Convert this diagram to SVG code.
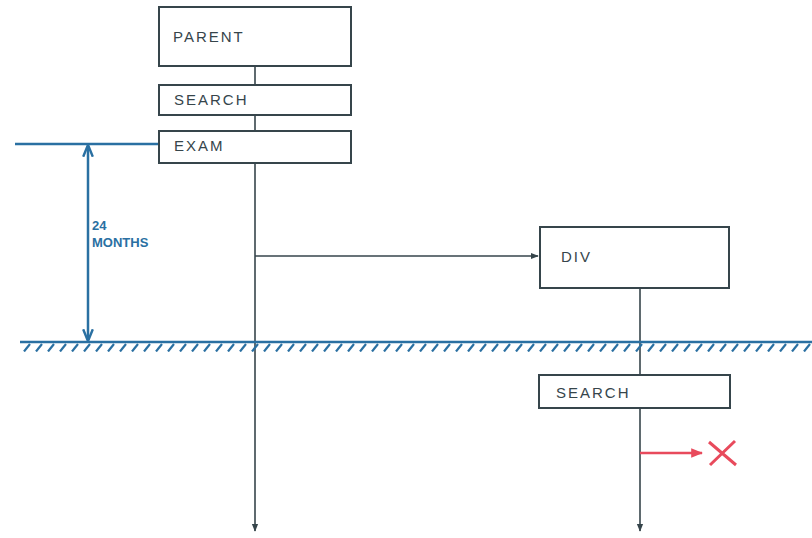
<svg xmlns="http://www.w3.org/2000/svg" width="812" height="538" viewBox="0 0 812 538">
<style>
.box{fill:#fff;stroke:#36454b;stroke-width:2}
.lbl{font-family:"Liberation Sans",Arial,sans-serif;font-size:15px;fill:#36454b;letter-spacing:2px}
.ln{stroke:#36454b;stroke-width:1.6;fill:none}
.blue{stroke:#2a70a2;stroke-width:2.5;fill:none}
.btxt{font-family:"Liberation Sans",Arial,sans-serif;font-size:13px;font-weight:bold;fill:#2a70a2}
</style>
<defs>
<marker id="ah" viewBox="0 0 10 10" refX="9" refY="5" markerWidth="8" markerHeight="8" orient="auto-start-reverse" markerUnits="userSpaceOnUse">
<path d="M0,1 L10,5 L0,9 Z" fill="#36454b"/>
</marker>
<marker id="ahb" viewBox="0 0 10 10" refX="9" refY="5" markerWidth="12" markerHeight="12" orient="auto-start-reverse" markerUnits="userSpaceOnUse">
<path d="M0,1 L10,5 L0,9" fill="none" stroke="#2a70a2" stroke-width="2"/>
</marker>
<marker id="ahr" viewBox="0 0 10 10" refX="9" refY="5" markerWidth="12" markerHeight="12" orient="auto" markerUnits="userSpaceOnUse">
<path d="M0,1 L10,5 L0,9 Z" fill="#e84a5c"/>
</marker>
<pattern id="hatch" x="22" y="343" width="12" height="9" patternUnits="userSpaceOnUse">
<line x1="2" y1="8.5" x2="8" y2="1" stroke="#2a70a2" stroke-width="2.2"/>
</pattern>
</defs>
<g id="connectors">
<line class="ln" x1="255" y1="66" x2="255" y2="531" marker-end="url(#ah)"/>
<line class="ln" x1="255" y1="256" x2="538" y2="256" marker-end="url(#ah)"/>
<line class="ln" x1="640" y1="288" x2="640" y2="531" marker-end="url(#ah)"/>
<line x1="640" y1="453" x2="702" y2="453" stroke="#e84a5c" stroke-width="2.5" marker-end="url(#ahr)"/>
<path d="M709,442 L736,465 M735,441 L710,465" stroke="#e84a5c" stroke-width="3" fill="none"/>
</g>
<g id="timeline">
<line class="blue" x1="15" y1="144" x2="159" y2="144"/>
<line class="blue" x1="88" y1="146" x2="88" y2="340" marker-start="url(#ahb)" marker-end="url(#ahb)"/>
<text class="btxt" x="92" y="230">24</text>
<text class="btxt" x="92" y="247">MONTHS</text>
</g>
<g id="ground">
<rect x="22" y="343" width="790" height="9" fill="url(#hatch)"/>
<line class="blue" x1="20" y1="342" x2="812" y2="342"/>
</g>
<g id="parent">
<rect class="box" x="159" y="7" width="192" height="59"/>
<text class="lbl" x="173" y="42">PARENT</text>
</g>
<g id="search1">
<rect class="box" x="159" y="85" width="192" height="30"/>
<text class="lbl" x="174" y="105">SEARCH</text>
</g>
<g id="exam">
<rect class="box" x="159" y="131" width="192" height="32"/>
<text class="lbl" x="174" y="151">EXAM</text>
</g>
<g id="div">
<rect class="box" x="540" y="227" width="189" height="61"/>
<text class="lbl" x="561" y="262">DIV</text>
</g>
<g id="search2">
<rect class="box" x="539" y="375" width="191" height="33"/>
<text class="lbl" x="556" y="398">SEARCH</text>
</g>
</svg>
